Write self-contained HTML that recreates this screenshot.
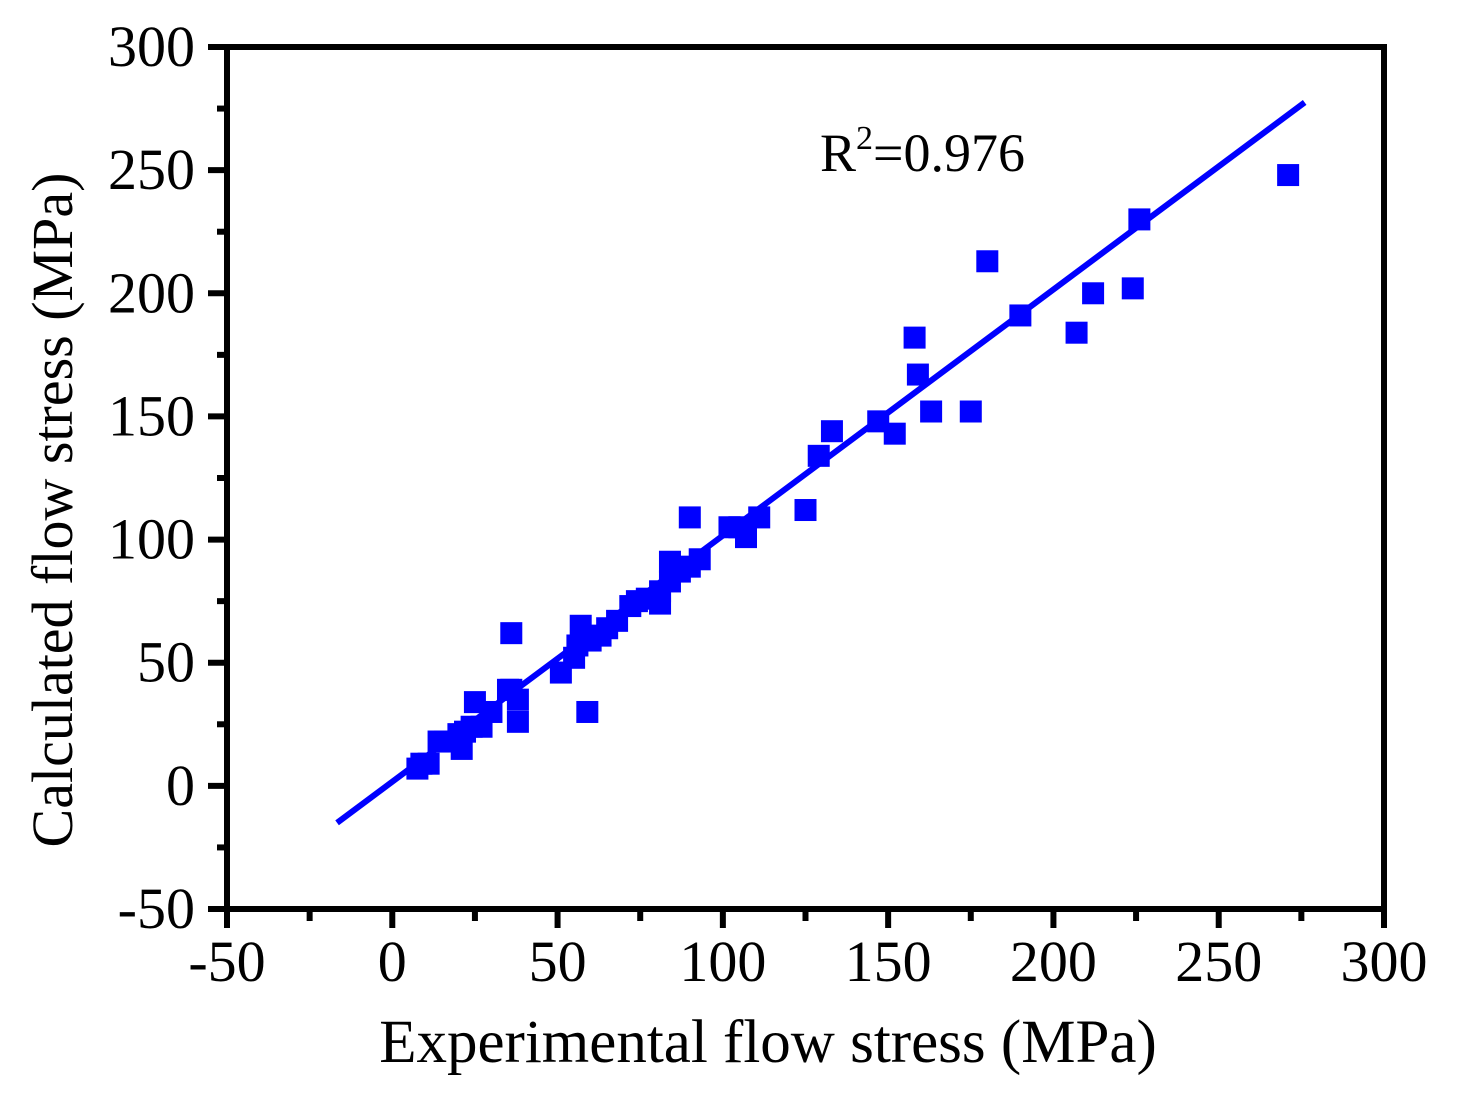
<!DOCTYPE html>
<html><head><meta charset="utf-8"><style>
body{margin:0;background:#fff}
svg text{font-family:"Liberation Serif",serif;fill:#000}
</style></head><body>
<svg id="c" width="1458" height="1096"></svg>
<script>
const xs=[7.6,8.8,11,14,16,20,21,22,24,25,27,30,35,36,36,38,38,51,55,56,57,59,60,63,65,68,72,74,77,81,81,84,84,87,90,90,93,102,105,107,111,125,129,133,147,152,158,159,163,175,180,190,207,212,224,226,271];
const ys=[7,9,9,18,18,21,15,22,24,34,24,30,39,39,62,26,35,46,52,57,65,30,59,61,64,67,73,75,76,74,79,83,91,87,109,89,92,105,105,101,109,112,134,144,148,143,182,167,152,152,213,191,184,200,202,230,248];
const fitX=[-16.7,276];
const fitY=[-15,277.5];
const xTicks=[-50,0,50,100,150,200,250,300];
const yTicks=[-50,0,50,100,150,200,250,300];
const NS="http://www.w3.org/2000/svg",svg=document.getElementById('c');
const L=227,R=1384,T=47,B=909;
const sx=v=>L+(v+50)/350*(R-L), sy=v=>B-(v+50)/350*(B-T);
function mk(t,a){const e=document.createElementNS(NS,t);for(const k in a)e.setAttribute(k,a[k]);svg.appendChild(e);return e;}
let e;
xs.forEach((v,i)=>{
  e=mk('rect',{x:sx(v)-11,y:sy(ys[i])-11,width:22,height:22,fill:'#0000ff'});
  
  
});
e=mk('line',{x1:sx(fitX[0]),y1:sy(fitY[0]),x2:sx(fitX[1]),y2:sy(fitY[1]),stroke:'#0000ff','stroke-width':6});


e=mk('rect',{x:L,y:T,width:R-L,height:B-T,fill:'none',stroke:'#000','stroke-width':6});


xTicks.forEach((v,i)=>{
  const x=sx(v);
  e=mk('line',{x1:x,x2:x,y1:B,y2:B+19,stroke:'#000','stroke-width':6});
  
  
  if(i<xTicks.length-1){const m=sx(v+25);
  e=mk('line',{x1:m,x2:m,y1:B,y2:B+12,stroke:'#000','stroke-width':6});
  
  }
  e=mk('text',{x:x,y:981,'font-size':58,'text-anchor':'middle'});e.textContent=v;
  
  
});
yTicks.forEach((v,i)=>{
  const y=sy(v);
  e=mk('line',{x1:L-19,x2:L,y1:y,y2:y,stroke:'#000','stroke-width':6});
  
  
  if(i<yTicks.length-1){const m=sy(v+25);
  e=mk('line',{x1:L-10,x2:L,y1:m,y2:m,stroke:'#000','stroke-width':6});
  
  }
  e=mk('text',{x:195,y:y+19,'font-size':58,'text-anchor':'end'});e.textContent=v;
  
  
});
e=mk('text',{x:768,y:1062,'font-size':61,'text-anchor':'middle'});e.textContent='Experimental flow stress (MPa)';


e=mk('text',{x:0,y:0,'font-size':58,'text-anchor':'middle',transform:'translate(72,510) rotate(-90)'});e.textContent='Calculated flow stress (MPa)';


e=mk('text',{x:820,y:171,'font-size':54});
e.innerHTML='R<tspan dy="-22" font-size="34">2</tspan><tspan dy="22">=0.976</tspan>';


</script>
</body></html>
